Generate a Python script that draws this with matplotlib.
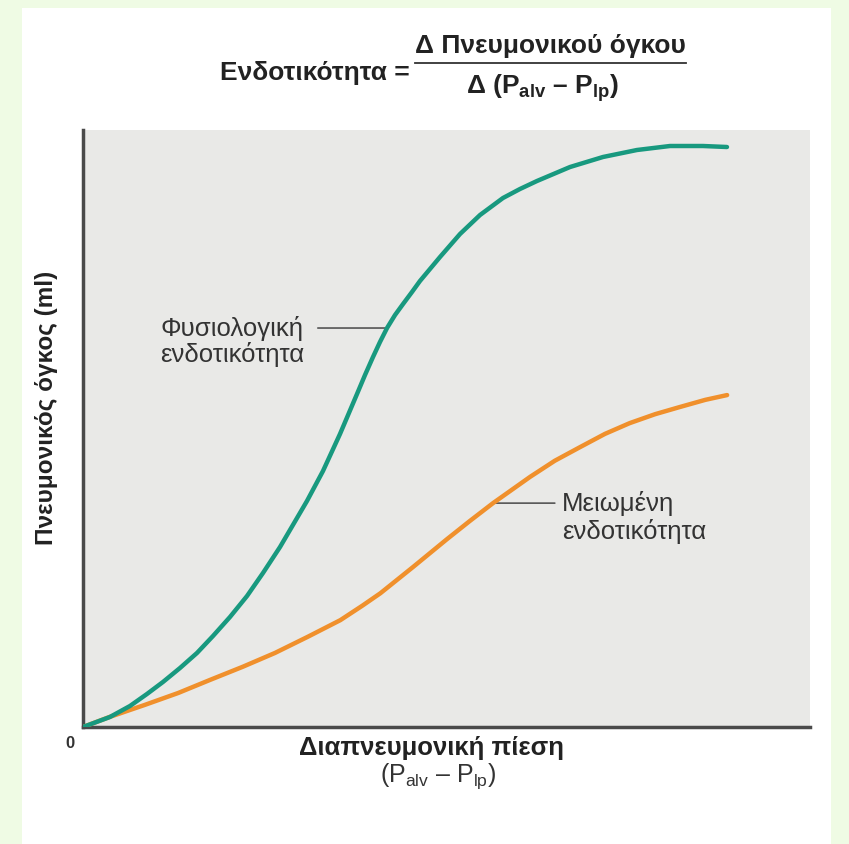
import matplotlib
matplotlib.use("Agg")
import matplotlib.pyplot as plt
from matplotlib.patches import Rectangle
from matplotlib.lines import Line2D

plt.rcParams["font.family"] = ["Liberation Sans", "DejaVu Sans"]
plt.rcParams["mathtext.fontset"] = "custom"
plt.rcParams["mathtext.rm"] = "Liberation Sans"
plt.rcParams["mathtext.bf"] = "Liberation Sans:bold"

# transpulmonary pressure (arbitrary units) and lung volume for each curve
normal_x = [0, 3.71, 6.46, 8.80, 11.0, 13.34, 15.68, 17.88, 20.22, 22.56,
            24.76, 27.10, 29.44, 30.81, 33.01, 35.35, 37.69, 38.79, 39.89,
            40.85, 41.82, 42.92, 44.02, 45.25, 46.35, 49.11, 51.86, 54.61,
            57.77, 60.11, 62.45, 66.99, 71.53, 76.20, 80.74, 85.28, 88.58]
normal_y = [0, 1.68, 3.52, 5.53, 7.54, 9.88, 12.4, 15.24, 18.43, 21.94,
            25.80, 30.15, 35.01, 37.86, 42.88, 49.08, 55.78, 58.96, 61.98,
            64.49, 66.83, 69.01, 70.85, 72.86, 74.71, 78.73, 82.58, 85.76,
            88.61, 90.12, 91.46, 93.80, 95.48, 96.65, 97.32, 97.32, 97.15]
normal_label_pt = 20  # index of the point the label leader touches

reduced_x = [0, 3.7, 8.5, 13.1, 17.5, 22.0, 26.4, 30.9, 35.4, 38.4, 40.9,
             45.4, 50.1, 53.2, 56.4, 61.5, 64.9, 68.4, 71.8, 75.2, 78.7,
             82.1, 85.6, 88.6]
reduced_y = [0, 1.7, 3.7, 5.7, 7.9, 10.1, 12.4, 15.1, 17.9, 20.3, 22.4,
             26.8, 31.5, 34.5, 37.5, 41.9, 44.6, 46.9, 49.1, 50.9, 52.4,
             53.6, 54.8, 55.6]
reduced_label_pt = 14

teal = "#18997f"
orange = "#f0902c"
border_green = "#effbe4"
dark = "#4a4a4a"

fig = plt.figure(figsize=(8.49, 8.44), dpi=100, facecolor=border_green)
fig.patches.append(Rectangle((22 / 849, 0), (831 - 22) / 849, 1 - 8 / 844,
                             transform=fig.transFigure, facecolor="white",
                             edgecolor="none", zorder=-5))

ax = fig.add_axes([83 / 849, 1 - 727 / 844, (810 - 83) / 849, (727 - 130) / 844])
ax.set_zorder(1)
ax.set_facecolor("#e9e9e7")
ax.set_xlim(0, 100)
ax.set_ylim(0, 100)
ax.set_xticks([])
ax.set_yticks([])
for side in ["top", "right"]:
    ax.spines[side].set_visible(False)
for side in ["left", "bottom"]:
    ax.spines[side].set_color(dark)
    ax.spines[side].set_linewidth(2.5)

ax.plot(reduced_x, reduced_y, color=orange, lw=3.2, solid_capstyle="round",
        solid_joinstyle="round", zorder=3)
ax.plot(normal_x, normal_y, color=teal, lw=3.2, solid_capstyle="round",
        solid_joinstyle="round", zorder=3)

# curve labels with short leader lines
label_kw = dict(fontsize=18.5, color="#333333", ha="left", va="center")
leader_kw = dict(arrowstyle="-", color="#555555", lw=1.2, shrinkA=0, shrinkB=0)

ny = normal_y[normal_label_pt]
ax.text(10.6, ny, "Φυσιολογική", **label_kw)
ax.text(10.6, ny - 4.5, "ενδοτικότητα", **label_kw)
ax.annotate("", xy=(normal_x[normal_label_pt], ny), xytext=(32.3, ny),
            arrowprops=leader_kw, zorder=2)

ry = reduced_y[reduced_label_pt]
ax.text(65.9, ry, "Μειωμένη", **label_kw)
ax.text(65.9, ry - 4.8, "ενδοτικότητα", **label_kw)
ax.annotate("", xy=(reduced_x[reduced_label_pt], ry), xytext=(64.9, ry),
            arrowprops=leader_kw, zorder=2)

# axis labels
fig.text(47 / 849, 1 - 408 / 844, "Πνευμονικός όγκος (ml)", rotation=90,
         ha="center", va="center", fontsize=17.5, fontweight="bold", color="#222222")
fig.text(70 / 849, 1 - 743 / 844, "0", ha="center", va="center",
         fontsize=12, fontweight="bold", color="#333333")
fig.text(431 / 849, 1 - 748 / 844, "Διαπνευμονική πίεση", ha="center",
         va="center", fontsize=18.5, fontweight="bold", color="#222222")
fig.text(438 / 849, 1 - 776 / 844, r"(P$_{\mathrm{alv}}$ – P$_{\mathrm{lp}}$)",
         ha="center", va="center", fontsize=18, color="#333333")

# compliance formula
fig.text(410 / 849, 1 - 73 / 844, "Ενδοτικότητα =", ha="right", va="center",
         fontsize=19, fontweight="bold", color="#222222")
fig.text(550 / 849, 1 - 46 / 844, "Δ Πνευμονικού όγκου", ha="center",
         va="center", fontsize=19, fontweight="bold", color="#222222")
fig.lines.append(Line2D([415 / 849, 686 / 849], [1 - 63 / 844, 1 - 63 / 844],
                        transform=fig.transFigure, color="#333333", lw=1.3))
fig.text(543 / 849, 1 - 88 / 844,
         r"Δ (P$_{\mathbf{alv}}$ – P$_{\mathbf{lp}}$)",
         ha="center", va="center", fontsize=19, fontweight="bold", color="#222222")

fig.savefig("out.png", dpi=100, facecolor=fig.get_facecolor())
